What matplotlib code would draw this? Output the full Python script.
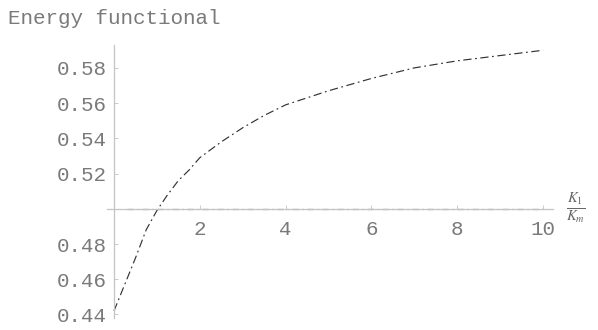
import matplotlib
matplotlib.use("Agg")
import matplotlib.pyplot as plt

# Energy functional versus the ratio K_1 / K_m
ratio = [0.0, 0.25, 0.5, 0.75, 1.0, 1.25, 1.5, 1.75, 2.0, 2.5, 3.0,
         3.5, 4.0, 5.0, 6.0, 7.0, 8.0, 9.0, 10.0]
energy = [0.442, 0.457, 0.472, 0.488, 0.499, 0.508, 0.516, 0.522, 0.529,
          0.538, 0.546, 0.553, 0.559, 0.567, 0.574, 0.580, 0.584, 0.587, 0.590]
reference_level = 0.5
x_ticks = [2, 4, 6, 8, 10]
y_ticks = [0.44, 0.46, 0.48, 0.52, 0.54, 0.56, 0.58]
y_tick_labels = ["0.44", "0.46", "0.48", "0.52", "0.54", "0.56", "0.58"]

plt.rcParams["mathtext.fontset"] = "stix"
mono = ["Liberation Mono", "DejaVu Sans Mono"]
text_color = "#7a7a7a"

fig = plt.figure(figsize=(5.98, 3.30), dpi=100)
ax = fig.add_axes([0.1784, 0.0364, 0.7463, 0.8273])
ax.set_xlim(-0.17, 10.23)
ax.set_ylim(0.438, 0.593)

# axes crossing at (0, reference_level)
for side in ("top", "right"):
    ax.spines[side].set_visible(False)
ax.spines["left"].set_position(("data", 0))
ax.spines["bottom"].set_position(("data", reference_level))
for side in ("left", "bottom"):
    ax.spines[side].set_color("#c4c4c4")
    ax.spines[side].set_linewidth(0.9)

# dashed level line drawn over the horizontal axis
ax.plot([0.3, 10.0], [reference_level, reference_level],
        color="#707070", lw=0.9, ls=(0, (5, 3, 1, 3)))

# energy curve
ax.plot(ratio, energy, color="#333333", lw=0.85, ls=(0, (7, 3, 1.5, 3)))

ax.set_xticks(x_ticks)
ax.set_xticklabels([str(t) for t in x_ticks])
ax.set_yticks(y_ticks)
ax.set_yticklabels(y_tick_labels)
ax.tick_params(axis="both", direction="in", length=3, width=0.7,
               color="#cccccc", labelcolor=text_color, labelsize=15)
ax.tick_params(axis="x", pad=8)
ax.tick_params(axis="y", pad=5)
for lab in ax.get_xticklabels() + ax.get_yticklabels():
    lab.set_family(mono)

# axis label at the right end of the horizontal axis
ax.text(1.03, reference_level, r"$\frac{K_1}{K_m}$",
        transform=ax.get_yaxis_transform(),
        fontsize=15, color="#666666", va="center", ha="left", clip_on=False)

fig.text(8 / 598, 1 - 18 / 330, "Energy functional", family=mono,
         fontsize=15, color=text_color, va="center", ha="left")

fig.savefig("out.png", dpi=100, facecolor="white")
